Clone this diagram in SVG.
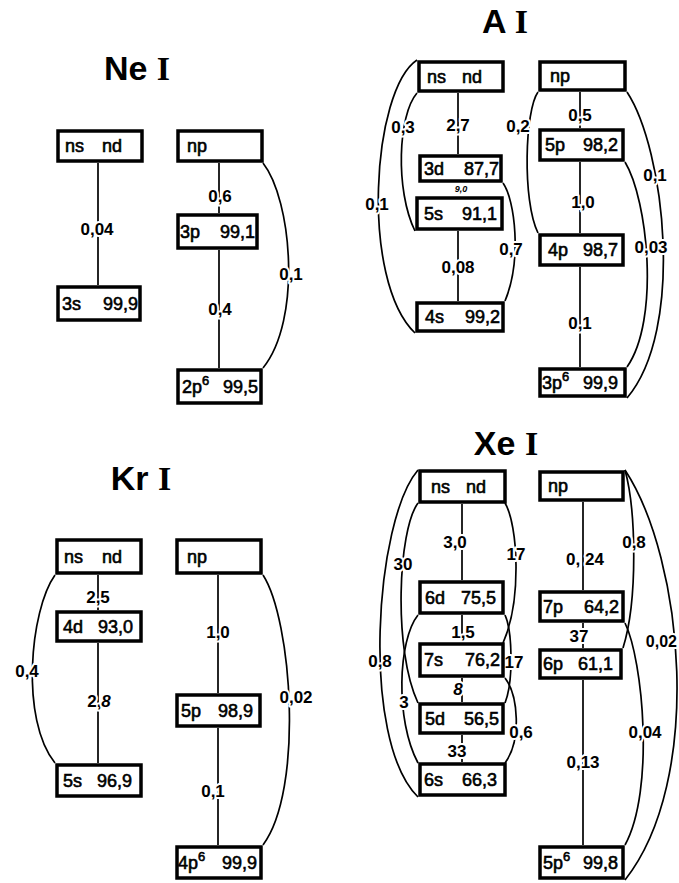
<svg xmlns="http://www.w3.org/2000/svg" width="679" height="883" viewBox="0 0 679 883">
<style>
.box{fill:#fff;stroke:#000;stroke-width:3.5}
.c{fill:none;stroke:#000;stroke-width:1.7}
text{font-family:"Liberation Sans",Arial,sans-serif;fill:#000}
.t{font-size:18px;stroke:#000;stroke-width:0.6}
.v{font-size:18px;text-anchor:end;stroke:#000;stroke-width:0.6}
.l{font-size:17px;font-weight:bold;text-anchor:middle;stroke:#fff;stroke-width:4;paint-order:stroke;stroke-linejoin:round}
.s{font-size:9px;font-style:italic;font-weight:bold;text-anchor:middle}
.h{font-size:34px;font-weight:bold;text-anchor:middle}
.serif{font-family:"Liberation Serif",serif}
.sup{font-size:13px}
</style>
<g id="titles">
<text class="h" x="137" y="80">Ne <tspan class="serif">I</tspan></text>
<text class="h" x="505" y="33">A <tspan class="serif">I</tspan></text>
<text class="h" x="141" y="490">Kr <tspan class="serif">I</tspan></text>
<text class="h" x="506" y="455">Xe <tspan class="serif">I</tspan></text>
</g>
<g id="connectors">
<path class="c" d="M98 163V285M219 163V213M219 250V368"/>
<path class="c" d="M263 163C292 200,302 320,263 368"/>
<path class="c" d="M458 93V154M458 231V301M580 92V128M580 162V233M580 267V367"/>
<path class="c" d="M417 93C398 115,395 190,415 231"/>
<path class="c" d="M417 60C372 90,360 280,415 333"/>
<path class="c" d="M503 183C515 200,522 260,505 301"/>
<path class="c" d="M538 92C525 110,522 200,538 233"/>
<path class="c" d="M627 92C665 150,685 330,627 398"/>
<path class="c" d="M625 162C648 200,660 320,627 367"/>
<path class="c" d="M98 575V610M98 643V763M218 575V693M218 728V845"/>
<path class="c" d="M55 575C30 610,20 720,55 763"/>
<path class="c" d="M263 575C292 620,304 790,263 845"/>
<path class="c" d="M462 504V580M462 615V642M462 678V702M462 735V762M583 502V590M583 623V648M583 680V845"/>
<path class="c" d="M418 470C375 520,360 740,418 797"/>
<path class="c" d="M418 503C398 530,393 650,418 703"/>
<path class="c" d="M418 615C398 640,395 720,418 763"/>
<path class="c" d="M505 503C518 525,522 600,503 643"/>
<path class="c" d="M505 615C512 630,514 680,505 703"/>
<path class="c" d="M505 678C518 695,522 740,505 763"/>
<path class="c" d="M625 470C636 510,638 600,623 648"/>
<path class="c" d="M625 470C684 560,704 780,625 880"/>
<path class="c" d="M625 623C643 660,655 790,625 845"/>
<text class="l" x="97" y="235">0,04</text>
<text class="l" x="220" y="202">0,6</text>
<text class="l" x="220" y="315">0,4</text>
<text class="l" x="291" y="280">0,1</text>
<text class="l" x="458" y="131">2,7</text>
<text class="l" x="403" y="133">0,3</text>
<text class="l" x="377" y="210">0,1</text>
<text class="s" x="461" y="192">9,0</text>
<text class="l" x="511" y="255">0,7</text>
<text class="l" x="458" y="273">0,08</text>
<text class="l" x="518" y="132">0,2</text>
<text class="l" x="580" y="121">0,5</text>
<text class="l" x="583" y="208">1,0</text>
<text class="l" x="580" y="329">0,1</text>
<text class="l" x="655" y="181">0,1</text>
<text class="l" x="651" y="253">0,03</text>
<text class="l" x="98" y="603">2,5</text>
<text class="l" x="99" y="707">2,<tspan font-style="italic">8</tspan></text>
<text class="l" x="27" y="677">0,4</text>
<text class="l" x="218" y="638">1,0</text>
<text class="l" x="213" y="797">0,1</text>
<text class="l" x="296" y="703">0,02</text>
<text class="l" x="455" y="548">3,0</text>
<text class="l" x="463" y="638">1,5</text>
<text class="l" x="458" y="695" font-style="italic">8</text>
<text class="l" x="457" y="757">33</text>
<text class="l" x="380" y="667">0,8</text>
<text class="l" x="403" y="570">30</text>
<text class="l" x="404" y="708">3</text>
<text class="l" x="516" y="560">17</text>
<text class="l" x="514" y="668">17</text>
<text class="l" x="521" y="738">0,6</text>
<text class="l" x="585" y="565">0, 24</text>
<text class="l" x="579" y="642">37</text>
<text class="l" x="583" y="768">0,13</text>
<text class="l" x="634" y="548">0,8</text>
<text class="l" x="677" y="647" style="text-anchor:end;font-size:16px">0,02</text>
<text class="l" x="645" y="738">0,04</text>
</g>
<g id="ne-nsnd"><rect class="box" x="58" y="131" width="84" height="30"/><text class="t" x="65" y="152">ns</text><text class="t" x="102" y="152">nd</text></g>
<g id="ne-np"><rect class="box" x="178" y="131" width="84" height="30"/><text class="t" x="187" y="152">np</text></g>
<g id="ne-3p"><rect class="box" x="178" y="215" width="79" height="33"/><text class="t" x="180" y="238">3p</text><text class="v" x="255" y="238">99,1</text></g>
<g id="ne-3s"><rect class="box" x="58" y="287" width="82" height="33"/><text class="t" x="62" y="310">3s</text><text class="v" x="138" y="310">99,9</text></g>
<g id="ne-2p6"><rect class="box" x="178" y="370" width="83" height="33"/><text class="t" x="182" y="393">2p<tspan class="sup" dy="-8">6</tspan></text><text class="v" x="258" y="393">99,5</text></g>
<g id="a-nsnd"><rect class="box" x="419" y="62" width="84" height="29"/><text class="t" x="427" y="83">ns</text><text class="t" x="462" y="83">nd</text></g>
<g id="a-3d"><rect class="box" x="420" y="156" width="81" height="25"/><text class="t" x="424" y="175">3d</text><text class="v" x="499" y="175">87,7</text></g>
<g id="a-5s"><rect class="box" x="417" y="198" width="85" height="31"/><text class="t" x="424" y="220">5s</text><text class="v" x="497" y="220">91,1</text></g>
<g id="a-4s"><rect class="box" x="417" y="303" width="86" height="28"/><text class="t" x="425" y="323">4s</text><text class="v" x="500" y="323">99,2</text></g>
<g id="a-np"><rect class="box" x="540" y="62" width="85" height="28"/><text class="t" x="550" y="82">np</text></g>
<g id="a-5p"><rect class="box" x="540" y="130" width="83" height="30"/><text class="t" x="545" y="151">5p</text><text class="v" x="618" y="151">98,2</text></g>
<g id="a-4p"><rect class="box" x="540" y="235" width="83" height="30"/><text class="t" x="548" y="256">4p</text><text class="v" x="618" y="256">98,7</text></g>
<g id="a-3p6"><rect class="box" x="540" y="369" width="85" height="27"/><text class="t" x="542" y="389">3p<tspan class="sup" dy="-8">6</tspan></text><text class="v" x="618" y="389">99,9</text></g>
<g id="kr-nsnd"><rect class="box" x="57" y="540" width="84" height="33"/><text class="t" x="64" y="563">ns</text><text class="t" x="102" y="563">nd</text></g>
<g id="kr-np"><rect class="box" x="177" y="540" width="84" height="33"/><text class="t" x="187" y="563">np</text></g>
<g id="kr-4d"><rect class="box" x="57" y="612" width="84" height="29"/><text class="t" x="63" y="633">4d</text><text class="v" x="133" y="633">93,0</text></g>
<g id="kr-5s"><rect class="box" x="57" y="765" width="84" height="31"/><text class="t" x="63" y="787">5s</text><text class="v" x="132" y="787">96,9</text></g>
<g id="kr-5p"><rect class="box" x="177" y="695" width="83" height="31"/><text class="t" x="181" y="717">5p</text><text class="v" x="253" y="717">98,9</text></g>
<g id="kr-4p6"><rect class="box" x="177" y="847" width="84" height="31"/><text class="t" x="178" y="869">4p<tspan class="sup" dy="-8">6</tspan></text><text class="v" x="257" y="869">99,9</text></g>
<g id="xe-nsnd"><rect class="box" x="420" y="471" width="85" height="31"/><text class="t" x="431" y="493">ns</text><text class="t" x="466" y="493">nd</text></g>
<g id="xe-6d"><rect class="box" x="420" y="582" width="83" height="31"/><text class="t" x="425" y="604">6d</text><text class="v" x="496" y="604">75,5</text></g>
<g id="xe-7s"><rect class="box" x="420" y="644" width="83" height="32"/><text class="t" x="424" y="666">7s</text><text class="v" x="500" y="666">76,2</text></g>
<g id="xe-5d"><rect class="box" x="420" y="704" width="83" height="29"/><text class="t" x="425" y="725">5d</text><text class="v" x="499" y="725">56,5</text></g>
<g id="xe-6s"><rect class="box" x="420" y="764" width="85" height="31"/><text class="t" x="424" y="786">6s</text><text class="v" x="497" y="786">66,3</text></g>
<g id="xe-np"><rect class="box" x="540" y="472" width="83" height="28"/><text class="t" x="548" y="492">np</text></g>
<g id="xe-7p"><rect class="box" x="540" y="592" width="83" height="29"/><text class="t" x="543" y="613">7p</text><text class="v" x="619" y="613">64,2</text></g>
<g id="xe-6p"><rect class="box" x="540" y="650" width="81" height="28"/><text class="t" x="543" y="670">6p</text><text class="v" x="613" y="670">61,1</text></g>
<g id="xe-5p6"><rect class="box" x="540" y="847" width="83" height="31"/><text class="t" x="543" y="869">5p<tspan class="sup" dy="-8">6</tspan></text><text class="v" x="618" y="869">99,8</text></g>
</svg>
